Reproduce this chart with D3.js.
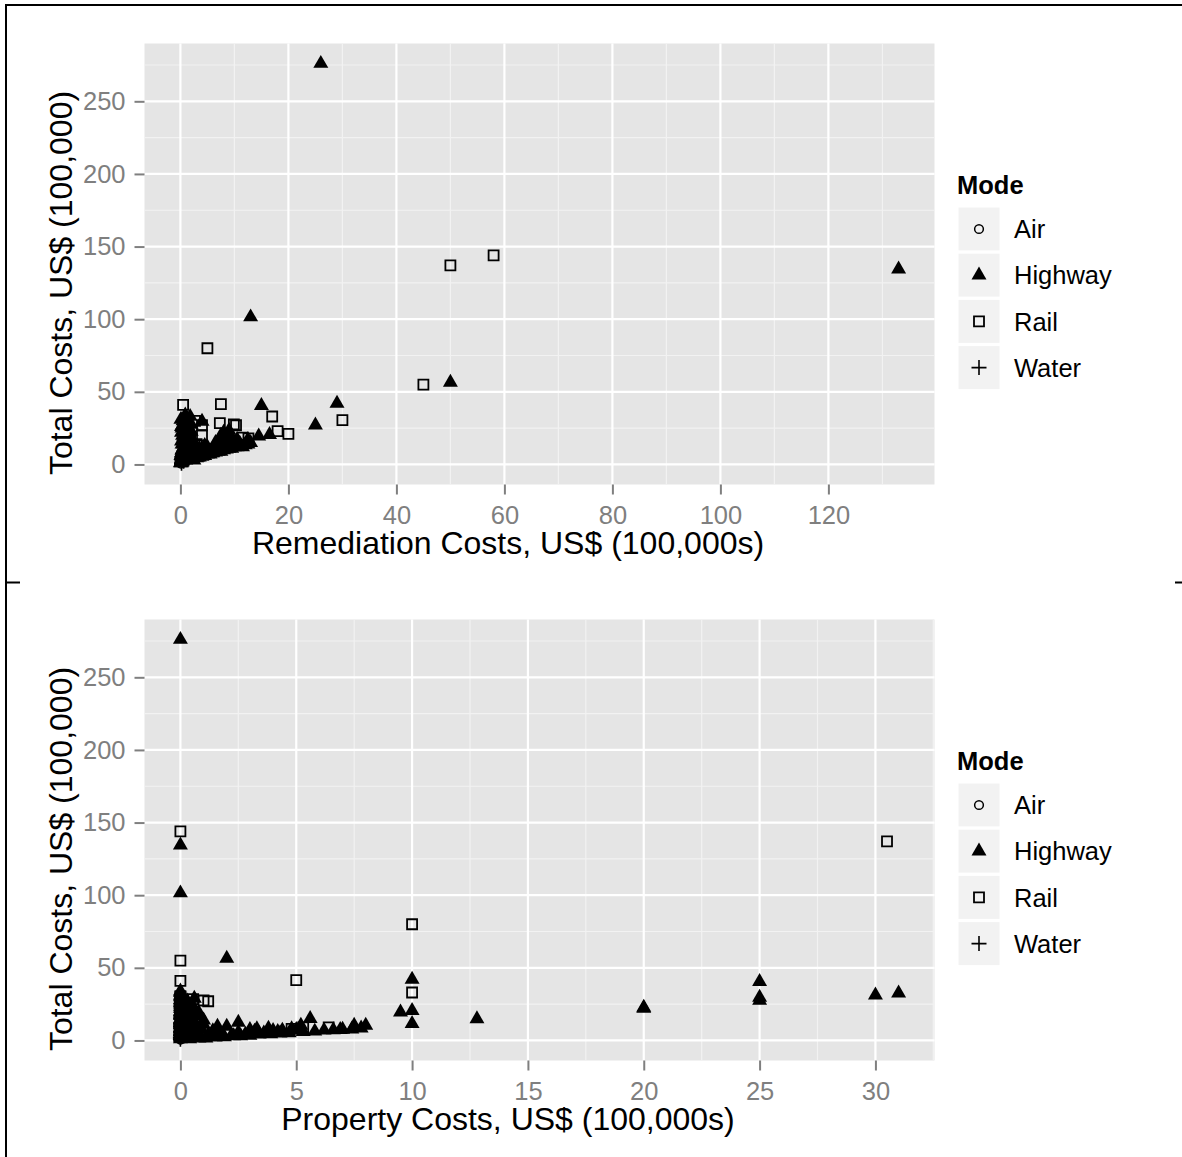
<!DOCTYPE html>
<html>
<head>
<meta charset="utf-8">
<script src="https://cdn.jsdelivr.net/npm/d3@7"></script>
<style>
  body { margin: 0; background: #fff; }
  svg text { font-family: "Liberation Sans", Arial, Helvetica, sans-serif; }
</style>
</head>
<body>
<div id="chart"></div>
<script>
/**
 * CONSTANTS AND GLOBALS
 * */
const width = 1182,
  height = 1157,
  panel = { left: 144.5, right: 934.5, top: 43.5, bottom: 484.5 },
  rowOffset = 576,
  grey50 = "#7F7F7F";

/**
 * DATA (US$ 100,000s)
 * each incident: [remediation, property, total]
 * */
const modes = ["Air", "Highway", "Rail", "Water"];
const remediationTicks = [0, 20, 40, 60, 80, 100, 120];
const propertyTicks = [0, 5, 10, 15, 20, 25, 30];
const totalTicks = [0, 50, 100, 150, 200, 250];

const airIncidents = [
  [0.1, 0, 0.6], [0.4, 0.1, 1.5]
];

const highwayIncidents = [
  // big ones
  [26, 0, 276], [133, 0, 134.5], [13, 0, 101.5], [50, 2, 56.5],
  [15, 25, 40.5], [29, 10, 42], [25, 0, 27], [14.5, 9.5, 19.5],
  [16.5, 10, 20.5], [12.5, 0, 17], [1.5, 12.8, 14.8], [2, 20, 22.8],
  [1.5, 20, 22], [4, 25, 29.6], [2, 25, 27.5], [1, 30, 31.2],
  [1, 31, 32.5], [1, 10, 11.5],
  // property row
  [0.5, 1.0, 11], [0.3, 1.6, 9.6], [0.5, 2.0, 9.6], [1.0, 2.5, 12.4],
  [0.5, 3.0, 7.5], [0.6, 3.3, 8], [0.8, 3.8, 8.3], [0.4, 4.4, 7],
  [0.5, 5.0, 7.5], [1.2, 5.2, 10.3], [2.0, 5.6, 15], [0.3, 6.6, 7.2],
  [0.4, 7.0, 7.6], [1.0, 7.5, 10.3], [0.8, 8.0, 10.4], [1.5, 4.8, 8],
  [0.7, 1.2, 4], [0.2, 2.2, 3.5], [0.4, 2.8, 4.2], [0.3, 3.6, 5],
  [0.6, 4.2, 6], [0.2, 1.8, 2.6],
  // low property wedge
  [0.2, 0.4, 1], [0.3, 0.8, 1.5], [0.1, 1.1, 1.6], [0.4, 1.5, 2.2],
  [0.2, 1.9, 2.4], [0.5, 2.3, 3.2], [0.3, 2.6, 3.1], [0.2, 3.0, 3.4],
  [0.6, 3.4, 4.3], [0.3, 3.9, 4.5], [0.4, 4.3, 5], [0.2, 4.7, 5.1],
  [0.5, 5.3, 6], [0.3, 5.8, 6.3], [0.6, 6.2, 7], [0.4, 6.9, 7.5],
  [0.2, 7.4, 7.8], [0.5, 7.8, 8.5], [0.3, 0.6, 5], [0.5, 1.4, 6.5],
  [0.2, 0.9, 8], [0.4, 1.7, 4.5], [0.6, 2.5, 5.5], [0.3, 3.2, 6.2],
  [0.2, 4.0, 6.8], [0.3, 1.0, 14], [0.5, 0.7, 17], [0.2, 0.5, 22],
  [0.4, 0.3, 27], [0.6, 0.4, 12],
  // column near zero remediation
  [0.2, 0, 2], [0.5, 0, 4], [0.1, 0, 6], [0.8, 0, 8], [0.3, 0.2, 10],
  [1.2, 0, 12], [0.6, 0, 14], [0.2, 0.1, 16], [1.0, 0, 18], [0.4, 0, 20],
  [1.5, 0, 22], [0.7, 0.3, 24], [0.2, 0, 26], [1.1, 0, 28], [0.5, 0, 30],
  [1.8, 0, 33], [0.9, 0, 34], [0.3, 0, 25], [1.4, 0.2, 17], [2.0, 0, 13],
  [0, 0, 1], [0.4, 0.5, 3], [1.6, 0, 6], [2.2, 0.4, 9], [0.9, 0.1, 21],
  [0.1, 0, 31], [1.3, 0.6, 29], [0.6, 0.8, 19], [1, 0, 3], [1.8, 0.1, 5],
  // band
  [2.5, 0, 3], [3, 0.2, 4.5], [3.5, 0, 5], [4, 0.1, 5.5], [4.5, 0, 6],
  [5, 0.3, 7], [5.5, 0, 7], [6, 0.2, 8], [6.5, 0, 8.5], [7, 0.4, 9],
  [7.5, 0, 9], [8, 0.1, 10], [8.5, 0, 10.5], [9, 0.5, 11], [9.5, 0, 11],
  [10, 0.2, 12], [10.5, 0, 12], [11, 0.6, 13], [11.5, 0, 12], [12, 0.3, 13.5],
  [3, 0, 8], [4, 0.3, 10], [5, 0, 12], [6, 0.5, 11], [7, 0, 14],
  [8, 0.2, 16], [8.5, 0, 19], [9, 0.4, 21], [9.5, 0, 18], [10, 0, 15],
  [10.5, 0.2, 17], [11, 0, 14.5], [7.5, 0, 20], [8, 0.6, 22], [9, 0, 23.5],
  [9.5, 0.2, 13], [2.5, 0.5, 15], [3.5, 0, 11], [4.5, 0.2, 13], [5.5, 0, 9],
  [6.5, 0.3, 15], [12.5, 0, 14], [13, 0.4, 15], [3.2, 0.8, 5], [5.8, 0.7, 8.5],
  [2.8, 0, 6.5]
];

const railIncidents = [
  [50, 30.5, 137], [58, 0, 144], [5, 10, 80], [45, 0, 55],
  [0.5, 0, 41], [7.5, 5, 41.5], [17, 10, 33], [30, 0, 30.5],
  [18, 0, 23], [20, 0, 21], [7.3, 0.55, 28.5], [9.9, 1.0, 27.5],
  [10.3, 1.2, 27], [2.7, 0, 30], [4, 0.4, 20], [1.8, 0, 19],
  [12.6, 0, 18], [5, 5.3, 9], [4.5, 4.8, 8], [6, 6.4, 9],
  [4, 0, 27], [0.8, 0, 12], [1.5, 0.2, 6], [2.2, 0, 9],
  [0.3, 0, 3], [3, 0.1, 14], [11.5, 0.3, 18.5], [1.2, 0, 24]
];

const waterIncidents = [
  [0.2, 0, 0.9], [0.6, 0, 2.2]
];

// flatten into one table, highway first so rail squares sit on top
const incidents = [];
[["Highway", highwayIncidents], ["Rail", railIncidents],
 ["Air", airIncidents], ["Water", waterIncidents]].forEach(([mode, rows]) => {
  rows.forEach(r => incidents.push({ mode: mode, remediation: r[0], property: r[1], total: r[2] }));
});

/**
 * SHAPES (ggplot-ish: 1 = open circle, 17 = filled triangle, 0 = open square, 3 = plus)
 * */
const shapes = {
  Air: { d: d3.symbol(d3.symbolCircle, 60)(), fill: "none", stroke: "black", sw: 1.5 },
  Highway: { d: d3.symbol(d3.symbolTriangle, 97)(), fill: "black", stroke: "none", sw: 0 },
  Rail: { d: d3.symbol(d3.symbolSquare, 100)(), fill: "none", stroke: "black", sw: 1.8 },
  Water: { d: "M-7.5,0H7.5M0,-7.5V7.5", fill: "none", stroke: "black", sw: 1.6 }
};

const svg = d3
  .select("#chart")
  .append("svg")
  .attr("width", width)
  .attr("height", height);

svg.append("rect").attr("width", width).attr("height", height).attr("fill", "white");

// frame bits left over from the grid layout
svg.append("path")
  .attr("d", "M6,1157V5H1182M6,582.5H20M1175,582.5H1182")
  .attr("fill", "none")
  .attr("stroke", "black")
  .attr("stroke-width", 2);

drawPanel(0, "remediation", remediationTicks, "Remediation Costs, US$ (100,000s)");
drawPanel(rowOffset, "property", propertyTicks, "Property Costs, US$ (100,000s)");

function minorBreaks(ticks, domain) {
  const step = ticks[1] - ticks[0];
  return [ticks[0] - step / 2].concat(ticks.map(t => t + step / 2))
    .filter(v => v >= domain[0] && v <= domain[1]);
}

function drawPanel(offsetY, xKey, xTicks, xLabel) {
  const g = svg.append("g").attr("transform", `translate(0,${offsetY})`);

  // SCALES (ggplot adds 5% each side)
  const xMax = d3.max(incidents, d => d[xKey]);
  const xScale = d3
    .scaleLinear()
    .domain([-xMax * 0.05, xMax * 1.05])
    .range([panel.left, panel.right]);

  const yMax = d3.max(incidents, d => d.total);
  const yScale = d3
    .scaleLinear()
    .domain([-yMax * 0.05, yMax * 1.05])
    .range([panel.bottom, panel.top]);

  // panel background
  g.append("rect")
    .attr("x", panel.left)
    .attr("y", panel.top)
    .attr("width", panel.right - panel.left)
    .attr("height", panel.bottom - panel.top)
    .attr("fill", "#E5E5E5");

  // minor grid
  g.selectAll(".vminor")
    .data(minorBreaks(xTicks, xScale.domain()))
    .join("line")
    .attr("x1", d => xScale(d)).attr("x2", d => xScale(d))
    .attr("y1", panel.top).attr("y2", panel.bottom)
    .attr("stroke", "#F2F2F2").attr("stroke-width", 1.2);
  g.selectAll(".hminor")
    .data(minorBreaks(totalTicks, yScale.domain()))
    .join("line")
    .attr("y1", d => yScale(d)).attr("y2", d => yScale(d))
    .attr("x1", panel.left).attr("x2", panel.right)
    .attr("stroke", "#F2F2F2").attr("stroke-width", 1.2);

  // major grid
  g.selectAll(".vmajor")
    .data(xTicks)
    .join("line")
    .attr("x1", d => xScale(d)).attr("x2", d => xScale(d))
    .attr("y1", panel.top).attr("y2", panel.bottom)
    .attr("stroke", "white").attr("stroke-width", 2.2);
  g.selectAll(".hmajor")
    .data(totalTicks)
    .join("line")
    .attr("y1", d => yScale(d)).attr("y2", d => yScale(d))
    .attr("x1", panel.left).attr("x2", panel.right)
    .attr("stroke", "white").attr("stroke-width", 2.2);

  // points
  g.selectAll(".dot")
    .data(incidents)
    .join("path")
    .attr("class", "dot")
    .attr("transform", d => `translate(${xScale(d[xKey])},${yScale(d.total)})`)
    .attr("d", d => shapes[d.mode].d)
    .attr("fill", d => shapes[d.mode].fill)
    .attr("stroke", d => shapes[d.mode].stroke)
    .attr("stroke-width", d => shapes[d.mode].sw);

  // AXES
  const xAxis = d3.axisBottom(xScale).tickValues(xTicks).tickSize(10).tickPadding(11);
  const yAxis = d3.axisLeft(yScale).tickValues(totalTicks).tickSize(10).tickPadding(9);

  const xg = g.append("g")
    .attr("transform", `translate(0,${panel.bottom})`)
    .call(xAxis);
  const yg = g.append("g")
    .attr("transform", `translate(${panel.left},0)`)
    .call(yAxis);

  [xg, yg].forEach(a => {
    a.select(".domain").remove();
    a.selectAll(".tick line").attr("stroke", grey50).attr("stroke-width", 2);
    a.selectAll(".tick text")
      .attr("fill", grey50)
      .style("font-size", "25.5px")
      .style("font-family", '"Liberation Sans", Arial, sans-serif');
  });

  // axis titles (the original sits a bit off the panel centre)
  g.append("text")
    .attr("x", 508)
    .attr("y", 554)
    .attr("text-anchor", "middle")
    .style("font-size", "32px")
    .text(xLabel);

  g.append("text")
    .attr("transform", "translate(72,283) rotate(-90)")
    .attr("text-anchor", "middle")
    .style("font-size", "32px")
    .text("Total Costs, US$ (100,000)");

  drawLegend(g);
}

function drawLegend(g) {
  const lg = g.append("g").attr("transform", "translate(957,0)");

  lg.append("text")
    .attr("x", 0)
    .attr("y", 194)
    .style("font-size", "25.5px")
    .style("font-weight", "bold")
    .text("Mode");

  const key = lg.selectAll(".key")
    .data(modes)
    .join("g")
    .attr("class", "key")
    .attr("transform", (d, i) => `translate(0,${206 + i * 46.2})`);

  key.append("rect")
    .attr("width", 44)
    .attr("height", 46)
    .attr("fill", "#F2F2F2")
    .attr("stroke", "white")
    .attr("stroke-width", 3);

  key.append("path")
    .attr("transform", "translate(22,23)")
    .attr("d", d => shapes[d].d)
    .attr("fill", d => shapes[d].fill)
    .attr("stroke", d => shapes[d].stroke)
    .attr("stroke-width", d => shapes[d].sw);

  key.append("text")
    .attr("x", 57)
    .attr("y", 23)
    .attr("dy", "0.36em")
    .style("font-size", "25.5px")
    .text(d => d);
}
</script>
</body>
</html>
